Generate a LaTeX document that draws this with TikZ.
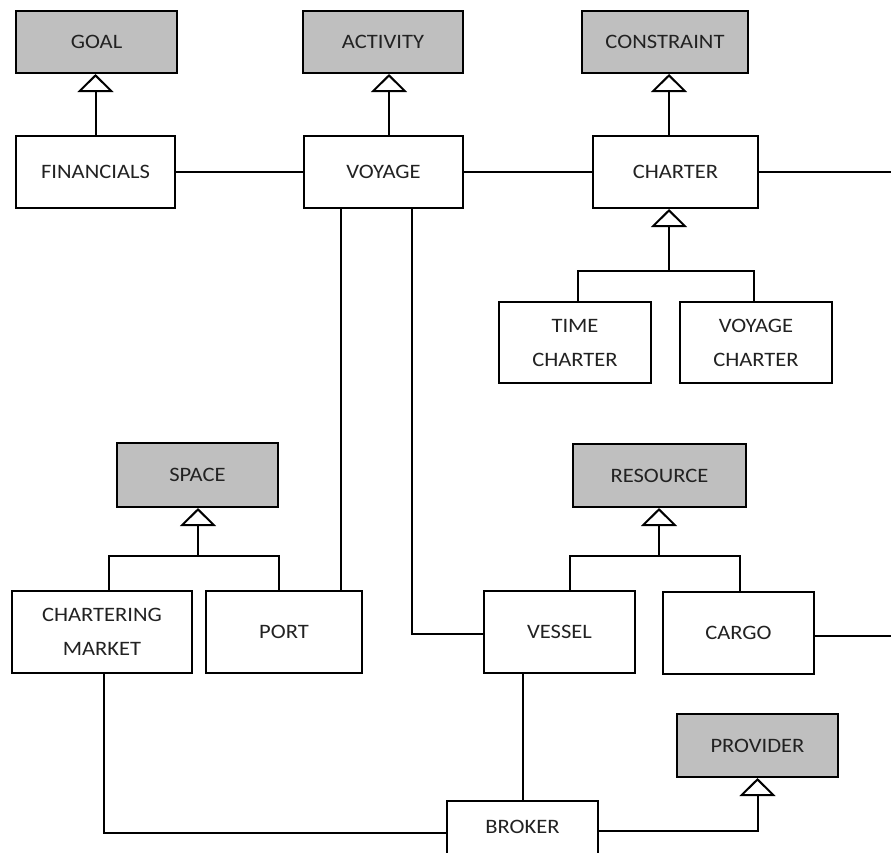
\documentclass[tikz,border=0pt]{standalone}
\usepackage{fontspec}
\setmainfont[FakeStretch=1.1]{Carlito}
\usetikzlibrary{arrows.meta}
\definecolor{boxgray}{HTML}{BFBFBF}
\definecolor{txt}{HTML}{222222}
\tikzset{
  box/.style={draw=black, line width=2pt, fill=white, inner sep=0pt, align=center,
    text=txt, font=\fontsize{20.5}{34}\selectfont},
  topbox/.style={box, fill=boxgray},
  link/.style={line width=2pt, draw=black},
  gen/.style={link, -{Triangle[open, length=18pt, width=36pt, line width=2pt]}},
}
\begin{document}
\begin{tikzpicture}[x=1pt, y=-1pt]
\useasboundingbox (0,0) rectangle (891,852);
\fill[white] (0,0) rectangle (891,852);
\clip (0,0) rectangle (891,852);

% top row
\node[topbox, minimum width=161, minimum height=62] (goal) at (96.5,42) {GOAL};
\node[topbox, minimum width=160, minimum height=62] (activity) at (383,42) {ACTIVITY};
\node[topbox, minimum width=166, minimum height=62] (constraint) at (665,42) {CONSTRAINT};

% second row
\node[box, minimum width=159, minimum height=72] (fin) at (95.5,172) {FINANCIALS};
\node[box, minimum width=159, minimum height=72] (voyage) at (383.5,172) {VOYAGE};
\node[box, minimum width=165, minimum height=72] (charter) at (675.5,172) {CHARTER};

% charter subtypes
\node[box, minimum width=152, minimum height=81] (tc) at (575,342.5) {TIME\\CHARTER};
\node[box, minimum width=152, minimum height=81] (vc) at (756,342.5) {VOYAGE\\CHARTER};

% space / resource
\node[topbox, minimum width=161, minimum height=64] (space) at (197.5,475) {SPACE};
\node[topbox, minimum width=173, minimum height=63] (resource) at (659.5,475.5) {RESOURCE};

\node[box, minimum width=180, minimum height=82] (chm) at (102,632) {CHARTERING\\MARKET};
\node[box, minimum width=156, minimum height=82] (port) at (284,632) {PORT};
\node[box, minimum width=151, minimum height=82] (vessel) at (559.5,632) {VESSEL};
\node[box, minimum width=151, minimum height=82] (cargo) at (738.5,633) {CARGO};

\node[topbox, minimum width=161, minimum height=63] (provider) at (757.5,745.5) {PROVIDER};
\node[box, minimum width=151, minimum height=60, anchor=north, text height=12pt, text depth=8pt] (broker) at (522.5,800) {BROKER};

% free ends and junctions
\coordinate (charterend) at (891,172);
\coordinate (cargoend) at (891,636);
\coordinate (cj) at (669,271);
\coordinate (sj) at (198,556);
\coordinate (rj) at (659,556);

% generalizations
\draw[gen] (fin.north) -- (fin.north |- goal.south);
\draw[gen] ([xshift=5.5pt]voyage.north) -- ([xshift=5.5pt]voyage.north |- activity.south);
\draw[gen] ([xshift=-6.5pt]charter.north) -- ([xshift=-6.5pt]charter.north |- constraint.south);

\draw[link] ([xshift=3pt]tc.north) |- (cj) -| ([xshift=-2pt]vc.north);
\draw[gen] (cj) -- (cj |- charter.south);

\draw[link] ([xshift=7pt]chm.north) |- (sj) -| ([xshift=-5pt]port.north);
\draw[gen] (sj) -- (sj |- space.south);

\draw[link] ([xshift=10.5pt]vessel.north) |- (rj) -| ([xshift=1.5pt]cargo.north);
\draw[gen] (rj) -- (rj |- resource.south);

\draw[gen] (broker.east) -| (provider.south);

% associations
\draw[link] (fin.east) -- (voyage.west);
\draw[link] (voyage.east) -- (charter.west);
\draw[link] (charter.east) -- (charterend);
\draw[link] ([xshift=-42.5pt]voyage.south) -- ([xshift=-42.5pt]voyage.south |- port.north);
\draw[link] ([xshift=28.5pt]voyage.south) |- ([yshift=-2pt]vessel.west);
\draw[link] (cargo.east |- cargoend) -- (cargoend);
\draw[link] (broker.north |- vessel.south) -- (broker.north);
\draw[link] ([xshift=2pt]chm.south) |- ([yshift=-2pt]broker.west);
\end{tikzpicture}
\end{document}
